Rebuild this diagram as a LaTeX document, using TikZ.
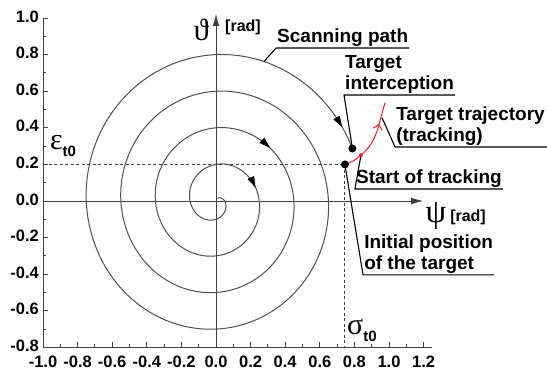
\documentclass[tikz,border=0pt]{standalone}
\usepackage{fontspec}
\setmainfont{Liberation Sans}
\newfontfamily\greekfont{Liberation Serif}
\usetikzlibrary{arrows.meta,decorations.markings}
\definecolor{axisgray}{HTML}{404040}
\definecolor{spiralgray}{HTML}{505050}
\definecolor{trackred}{HTML}{E8202A}

\begin{document}
\begin{tikzpicture}[x=173pt, y=183pt,
    declare function={sr(\u)=0.2*\u/360; sx(\u)=sr(\u)*cos(450-\u); sy(\u)=sr(\u)*sin(450-\u);},
    axisline/.style={draw=axisgray, line width=0.9pt},
    spiral/.style={draw=spiralgray, line width=1pt},
    guide/.style={draw=axisgray, dash pattern=on 3pt off 2.5pt, line width=0.8pt},
    leader/.style={draw=black, line width=1.1pt},
    callout/.style={font=\bfseries\fontsize{19}{21}\selectfont, align=left,
                    inner xsep=1pt, inner ysep=1.5pt, anchor=south west},
    ticklbl/.style={font=\bfseries\fontsize{16.5}{16.5}\selectfont, inner sep=0pt},
    unitlbl/.style={font=\bfseries\fontsize{16}{16}\selectfont, inner sep=0pt},
    greeklbl/.style={font=\greekfont\fontsize{30}{30}\selectfont, inner sep=0pt},
    spiralarrow/.style={-{Triangle[length=11pt,width=7pt]}, draw=black, fill=black},
    dot/.style={circle, fill=black, inner sep=0pt, minimum size=8pt},
    reddot/.style={circle, fill=trackred, inner sep=0pt, minimum size=4pt},
  ]
  \useasboundingbox (-1.2486,-0.9454) rectangle (1.9133,1.0984);
  \coordinate (rimR) at (1.9133,0);

  % frame and ticks
  \draw[axisline] (-1,1.0) -- (-1,-0.8) -- (1.25,-0.8);
  \foreach \k in {-4,...,5}
    \draw[axisline] (-1,\k*0.2) -- ++(5pt,0);
  \foreach \k in {-7,-5,...,9}
    \draw[axisline] (-1,\k/10) -- ++(3pt,0);
  \foreach \k in {-5,...,6}
    \draw[axisline] (\k*0.2,-0.8) -- ++(0,5pt);
  \foreach \k in {-9,-7,...,11}
    \draw[axisline] (\k/10,-0.8) -- ++(0,3pt);
  \foreach \v [count=\i] in {-0.8,-0.6,-0.4,-0.2,0.0,0.2,0.4,0.6,0.8,1.0}
    \node[ticklbl, anchor=east, xshift=-4pt, yshift=1.5pt] (ylab\i) at (-1,\v) {\v};
  \foreach \v [count=\i] in {-1.0,-0.8,-0.6,-0.4,-0.2,0.0,0.2,0.4,0.6,0.8,1.0,1.2}
    \node[ticklbl, anchor=north, yshift=-8pt] (xlab\i) at (\v,-0.8) {\v};

  % central axes
  \coordinate (xbeg) at (-1,0);
  \coordinate (xend) at (1.197,0);
  \coordinate (ybeg) at (0,-0.8);
  \coordinate (yend) at (0,1.022);
  \draw[axisline, -{Latex[length=12pt,width=7pt]}] (xbeg) -- (xend);
  \draw[axisline, -{Latex[length=12pt,width=7pt]}] (ybeg) -- (yend);
  \node[greeklbl, font=\greekfont\fontsize{31}{31}\selectfont] (thsym) at (-0.085,0.934) {ϑ};
  \node[unitlbl, anchor=west] (thunit) at (0.052,0.951) {[rad]};
  \node[greeklbl, font=\greekfont\fontsize{33}{33}\selectfont] (psisym) at (1.272,-0.080) {ψ};
  \node[unitlbl, anchor=west] (psiunit) at (1.353,-0.087) {[rad]};

  % scanning spiral
  \draw[spiral] plot[domain=30:1510, samples=400, smooth] ({sx(\x)},{sy(\x)});
  \foreach \u in {432,767,1501}
    \draw[spiralarrow] ({sx(\u-2)},{sy(\u-2)}) -- ({sx(\u)},{sy(\u)});

  \coordinate (icpt) at ({sx(1510)},{sy(1510)});
  \coordinate (scanpt) at ({sx(1460)},{sy(1460)});
  \coordinate (init) at (0.745,0.2);
  \coordinate (trk) at (0.838,0.251);
  \coordinate (trajpt) at (0.960,0.454);
  \coordinate (tend) at (0.977,0.536);

  % initial position guides
  \draw[guide] (xbeg |- init) -- (init);
  \draw[guide] (init) -- (init |- ybeg);
  \node[greeklbl, anchor=base west] (eps) at (-0.960,0.279)
    {ε\raisebox{-7pt}{\normalfont\bfseries\fontsize{15}{15}\selectfont t0}};
  \node[greeklbl, anchor=base west] (sig) at (0.757,-0.732)
    {σ\raisebox{-7pt}{\normalfont\bfseries\fontsize{15}{15}\selectfont t0}};

  % target track
  \draw[trackred, line width=1pt, postaction={decorate},
        decoration={markings, mark=at position 0.72 with {\arrow{Straight Barb[length=5pt,width=9pt]}}}]
    (init) to[out=15,in=-140] (trk) to[out=40,in=-108] (tend);

  % callouts
  \node[callout] (scanlbl) at (0.347,0.836) {Scanning path};
  \node[callout] (icptlbl) at (0.740,0.579) {Target\\interception};
  \node[callout] (trajlbl) at (1.035,0.295) {Target trajectory\\(tracking)};
  \node[callout] (startlbl) at (0.803,0.0656) {Start of tracking};
  \node[callout] (initlbl) at (0.850,-0.404) {Initial position\\of the target};
  \draw[leader] (scanpt) -- (scanlbl.south west) -- (scanlbl.south east);
  \draw[leader] (icpt) -- (icptlbl.south west) -- (icptlbl.south east);
  \draw[leader] (trajpt) -- (trajlbl.south west) -- (trajlbl.south west -| rimR);
  \draw[leader] (trk) -- (startlbl.south west) -- (startlbl.south east);
  \draw[leader] (init) -- (initlbl.south west) -- (initlbl.south east);

  \node[dot] (icptdot) at (icpt) {};
  \node[dot] (initdot) at (init) {};
  \node[reddot] (trkdot) at (trk) {};
\end{tikzpicture}
\end{document}
